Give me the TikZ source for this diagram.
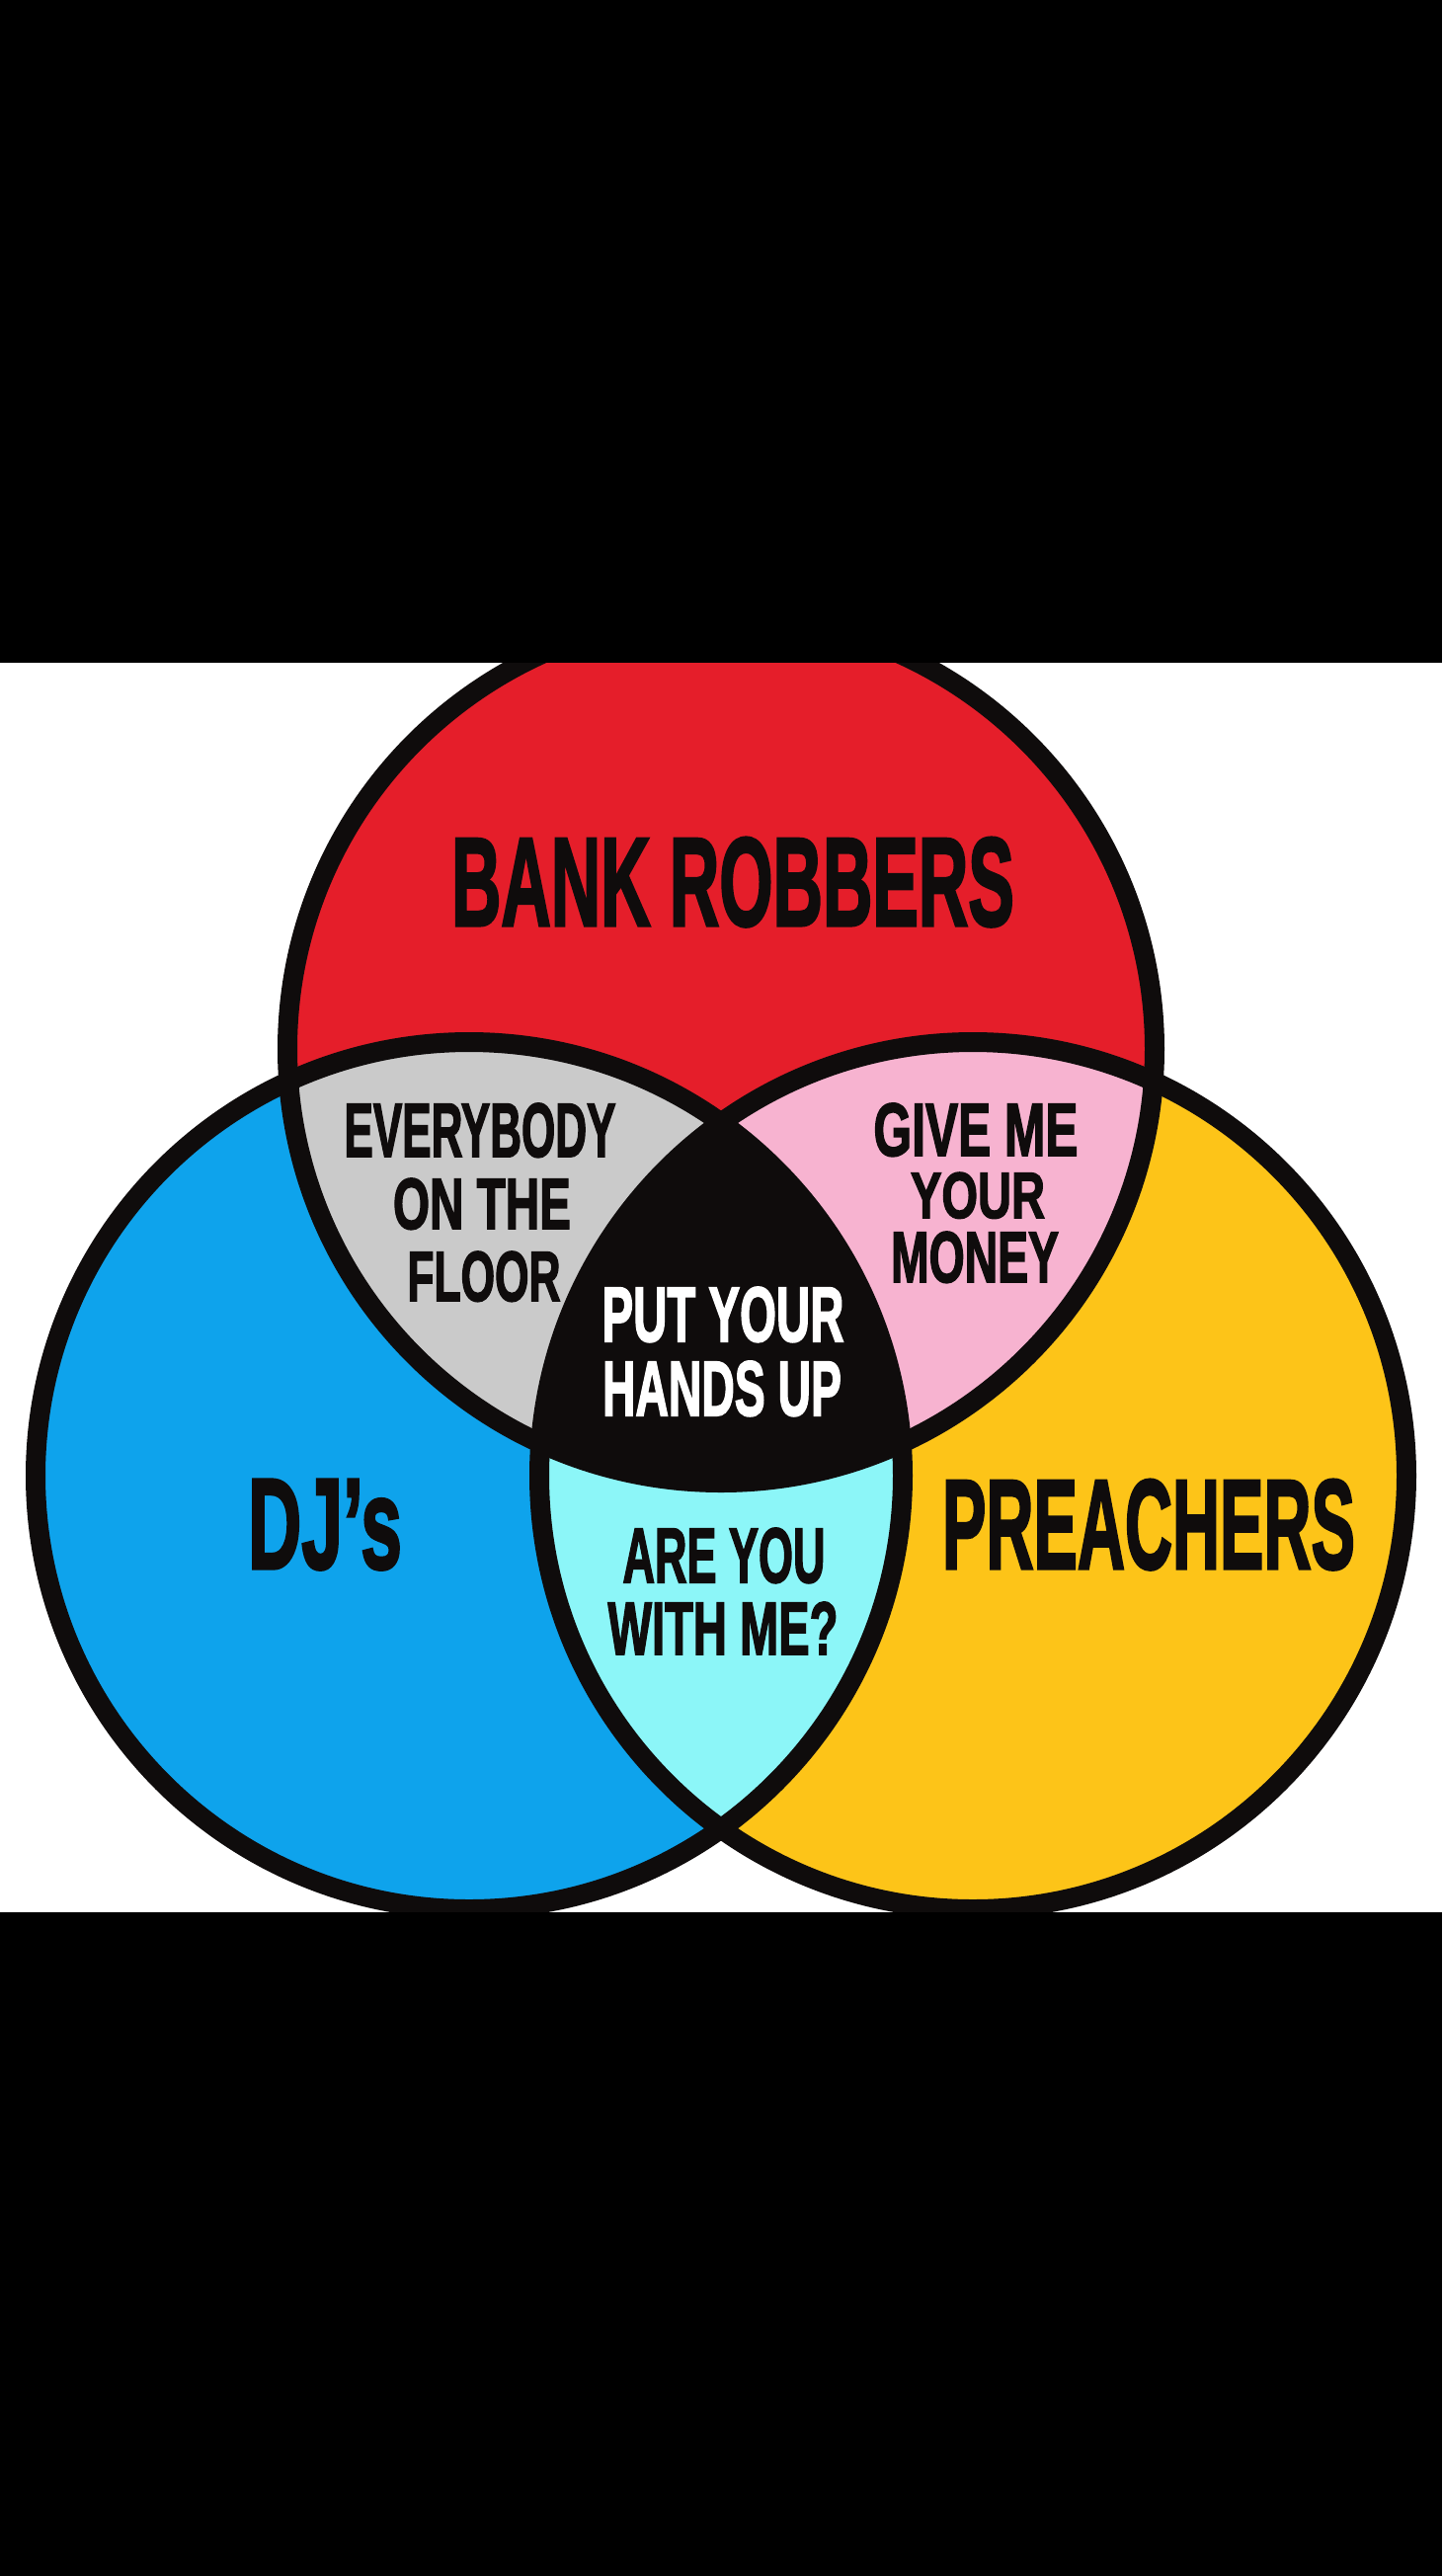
\documentclass[tikz,border=0pt]{standalone}
\usepackage{fontspec}
\usepackage{graphicx}
\setmainfont{Liberation Sans}[BoldFeatures={FakeBold=2.5}]
\definecolor{cred}{RGB}{229,30,42}
\definecolor{cblue}{RGB}{14,163,236}
\definecolor{cyel}{RGB}{253,196,24}
\definecolor{cgray}{RGB}{202,202,202}
\definecolor{cpink}{RGB}{247,179,208}
\definecolor{ccyan}{RGB}{140,246,248}
\definecolor{ink}{RGB}{15,12,12}
\newcommand{\fitline}[3]{\resizebox{#1pt}{#2pt}{\fontsize{100pt}{100pt}\selectfont\bfseries #3}}
\tikzset{
  lbl/.style={inner sep=0pt, anchor=base, text=ink},
  wlbl/.style={inner sep=0pt, anchor=base, text=white},
  ring/.style={draw=ink, line width=20pt},
  band/.style={fill=black},
}
\begin{document}
\begin{tikzpicture}[x=1pt,y=-1pt]
\useasboundingbox (0,0) rectangle (1460,2608);
\fill[white] (0,0) rectangle (1460,2608);
% base circles
\fill[cred]  (730,1062) circle[radius=439pt];
\fill[cblue] (475,1494) circle[radius=439pt];
\fill[cyel]  (985,1494) circle[radius=439pt];
% pairwise intersections
\begin{scope}
  \clip (730,1062) circle[radius=439pt];
  \fill[cgray] (475,1494) circle[radius=439pt];
  \fill[cpink] (985,1494) circle[radius=439pt];
\end{scope}
\begin{scope}
  \clip (475,1494) circle[radius=439pt];
  \fill[ccyan] (985,1494) circle[radius=439pt];
\end{scope}
% triple intersection
\begin{scope}
  \clip (730,1062) circle[radius=439pt];
  \clip (475,1494) circle[radius=439pt];
  \fill[ink] (985,1494) circle[radius=439pt];
\end{scope}
% outlines
\draw[ring] (730,1062) circle[radius=439pt];
\draw[ring] (475,1494) circle[radius=439pt];
\draw[ring] (985,1494) circle[radius=439pt];
% black bands
\fill[band] (0,0) rectangle (1460,671);
\fill[band] (0,1936) rectangle (1460,2608);
% labels
\node[lbl] (bank) at (742,937) {\fitline{570}{89}{BANK ROBBERS}};
\node[lbl] (ev1) at (486,1171) {\fitline{275}{54}{EVERYBODY}};
\node[lbl] (ev2) at (488,1244) {\fitline{180}{51}{ON THE}};
\node[lbl] (ev3) at (490,1317) {\fitline{155}{50}{FLOOR}};
\node[lbl] (gm1) at (988,1170) {\fitline{207}{53}{GIVE ME}};
\node[lbl] (gm2) at (990,1233) {\fitline{136}{46}{YOUR}};
\node[lbl] (gm3) at (987,1298) {\fitline{170}{51}{MONEY}};
\node[wlbl] (ph1) at (732,1358) {\fitline{245}{55}{PUT YOUR}};
\node[wlbl] (ph2) at (731,1433) {\fitline{242}{55}{HANDS UP}};
\node[lbl] (dj) at (329,1588) {\fitline{156}{90}{DJ’s}};
\node[lbl] (pr) at (1163,1588) {\fitline{418}{90}{PREACHERS}};
\node[lbl] (ay1) at (733,1602) {\fitline{205}{55}{ARE YOU}};
\node[lbl] (ay2) at (732,1675) {\fitline{233}{53}{WITH ME?}};
\end{tikzpicture}
\end{document}
